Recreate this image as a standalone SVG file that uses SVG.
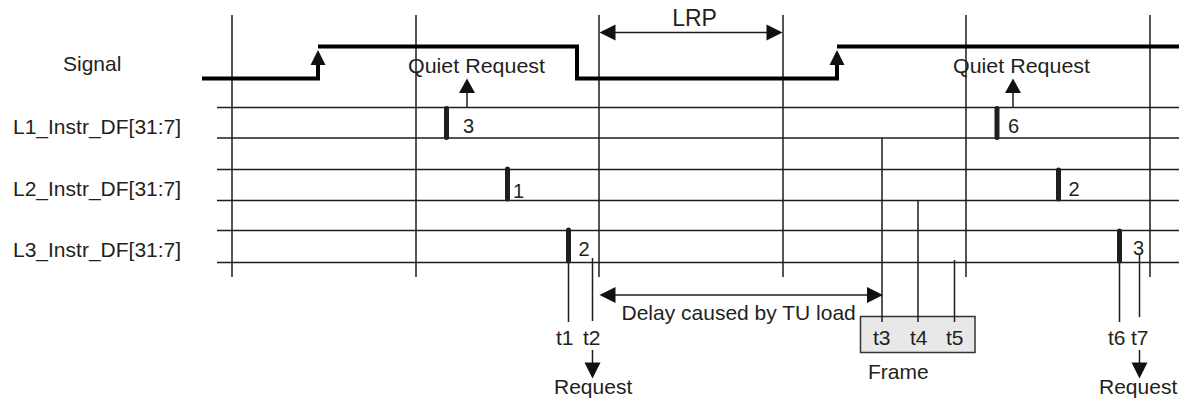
<svg xmlns="http://www.w3.org/2000/svg" width="1179" height="398" viewBox="0 0 1179 398">
<style>
text{font-family:"Liberation Sans",Arial,Helvetica,sans-serif;fill:#231f20;font-size:21px}
.d{font-size:20px}
.g{stroke:#1e1e1e;stroke-width:1.5;fill:none}
.h{stroke:#1e1e1e;stroke-width:1.6;fill:none}
.t{stroke:#1e1e1e;stroke-width:1.5;fill:none}
.m{stroke:#1e1e1e;stroke-width:5;stroke-linecap:round;fill:none}
.a{fill:#111}
</style>
<rect width="1179" height="398" fill="#fff"/>
<g id="grid">
<path class="g" d="M232,15V277M416,15V277M599,15V277M783,15V277M966,15V277M1150,15V277"/>
<path class="h" d="M217,107.5H1179M217,138H1179M217,169.5H1179M217,200.5H1179M217,230.5H1179M217,262.5H1179"/>
</g>
<g id="labels">
<text x="63" y="71">Signal</text>
<text x="13" y="134">L1_Instr_DF[31:7]</text>
<text x="13" y="196">L2_Instr_DF[31:7]</text>
<text x="13" y="257">L3_Instr_DF[31:7]</text>
</g>
<g id="signal">
<path d="M202,78.5H318V64M318,46.5H577V78.5H837V64M837,46.5H1179" fill="none" stroke="#000" stroke-width="4"/>
<polygon class="a" points="318,50 310.5,65 325.5,65"/>
<polygon class="a" points="837,50 829.5,65 844.5,65"/>
</g>
<g id="lrp">
<text x="694.5" y="26" text-anchor="middle" style="font-size:23px">LRP</text>
<path class="t" d="M612,32.5H770" stroke-width="2"/>
<polygon class="a" points="599.5,32.5 615.5,24.5 615.5,40.5"/>
<polygon class="a" points="782.5,32.5 766.5,24.5 766.5,40.5"/>
</g>
<g id="quiet1">
<text x="408" y="73.3" textLength="137" lengthAdjust="spacingAndGlyphs">Quiet Request</text>
<path class="t" d="M467,107V91"/>
<polygon class="a" points="467,78.5 459,93 475,93"/>
</g>
<g id="quiet2">
<text x="953" y="73.3" textLength="137" lengthAdjust="spacingAndGlyphs">Quiet Request</text>
<path class="t" d="M1013,107V91"/>
<polygon class="a" points="1013,78.5 1005,93 1021,93"/>
</g>
<g id="markers">
<path class="m" d="M446.5,108.5V137.5M507.5,169V199M568.5,230V261M997,108.5V137.5M1058.5,170V199M1119.5,231V261"/>
<text class="d" x="463" y="132.5">3</text>
<text class="d" x="513" y="198">1</text>
<text class="d" x="578.5" y="256">2</text>
<text class="d" x="1008" y="133">6</text>
<text class="d" x="1068.5" y="196">2</text>
<text class="d" x="1133" y="255">3</text>
</g>
<g id="frame">
<rect x="860.5" y="316.5" width="114.5" height="36" fill="#e8e8e8" stroke="#333" stroke-width="1.5"/>
<text x="868" y="379">Frame</text>
</g>
<g id="connectors">
<path class="t" d="M568.5,263V322M592.5,258V321M882,138V322M918,200.5V322M954.5,260V322M1119.5,263V322M1139.5,255V317"/>
<path class="t" d="M612,295H870" stroke-width="2"/>
<polygon class="a" points="599.5,295 615.5,287 615.5,303"/>
<polygon class="a" points="883,295 867,287 867,303"/>
<path class="t" d="M592.5,350V364" stroke-width="2"/>
<polygon class="a" points="592.5,378.5 584.5,362.5 600.5,362.5"/>
<path class="t" d="M1139.5,350V364" stroke-width="2"/>
<polygon class="a" points="1139.5,378.5 1131.5,362.5 1147.5,362.5"/>
</g>
<g id="timelabels">
<text x="621.5" y="320">Delay caused by TU load</text>
<text x="556" y="345">t1</text>
<text x="583" y="345">t2</text>
<text x="873" y="345">t3</text>
<text x="910" y="345">t4</text>
<text x="946" y="345">t5</text>
<text x="1108" y="345">t6</text>
<text x="1131" y="345">t7</text>
<text x="554" y="393.5">Request</text>
<text x="1099" y="393.5">Request</text>
</g>
</svg>
